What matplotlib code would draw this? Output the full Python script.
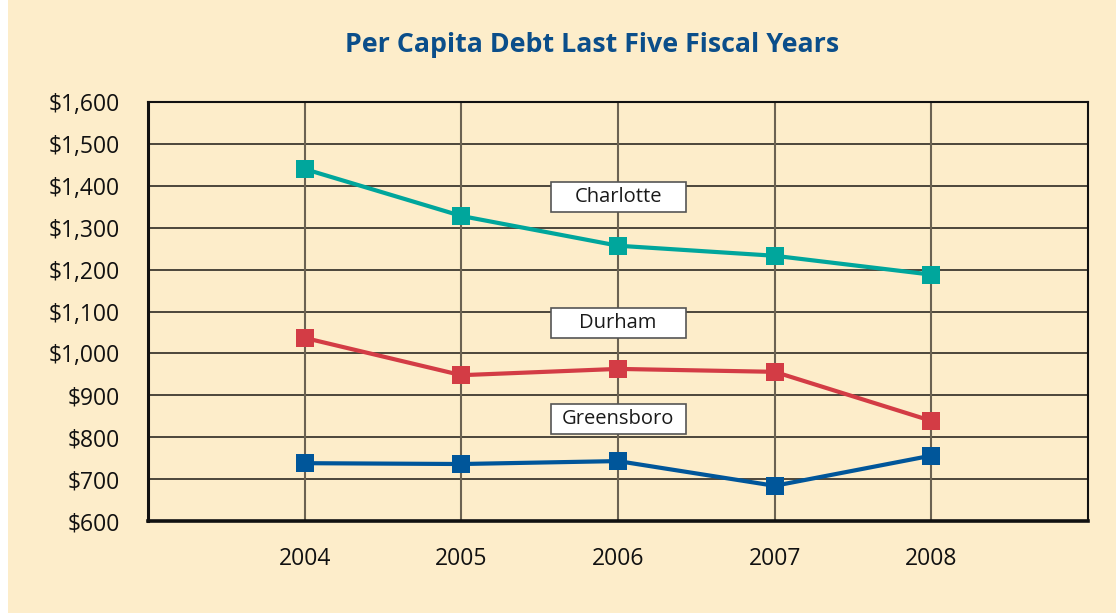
import matplotlib
matplotlib.use("Agg")
import matplotlib.pyplot as plt
from matplotlib.patches import Rectangle
from matplotlib.transforms import ScaledTranslation

years = [2004, 2005, 2006, 2007, 2008]
charlotte = [1440, 1328, 1257, 1233, 1188]
durham = [1037, 948, 963, 956, 839]
greensboro = [738, 736, 743, 684, 756]
series_names = ["Charlotte", "Durham", "Greensboro"]
label_x = [2006, 2006, 2006]
label_y = [1373, 1073, 843]
y_ticks = [600, 700, 800, 900, 1000, 1100, 1200, 1300, 1400, 1500, 1600]
title = "Per Capita Debt Last Five Fiscal Years"

colors = ["#00A69C", "#D33C45", "#00569A"]
bg = "#FDEDCA"

plt.rcParams['font.family'] = ['Open Sans', 'DejaVu Sans']

fig = plt.figure(figsize=(11.19, 6.13), dpi=100)
fig.patch.set_facecolor("white")
fig.patches.append(Rectangle((8 / 1119, 0), (1116 - 8) / 1119, 1,
                             transform=fig.transFigure, facecolor=bg,
                             edgecolor="none", zorder=-10))

ax = fig.add_axes([148 / 1119, 92 / 613, 940 / 1119, 419 / 613])
ax.set_facecolor(bg)
ax.set_xlim(2003, 2009)
ax.set_ylim(600, 1600)

for y in y_ticks[1:-1]:
    ax.axhline(y, color="#2e2a22", lw=1.2, zorder=1)
for x in years:
    ax.axvline(x, color="#6b6252", lw=1.5, zorder=1)

for vals, c in zip([charlotte, durham, greensboro], colors):
    ax.plot(years, vals, color=c, lw=3.0, marker="s", markersize=13,
            markeredgewidth=0, zorder=3, solid_joinstyle="round")

w_in, h_in = 1.35, 0.30
for name, lx, ly in zip(series_names, label_x, label_y):
    tr = fig.dpi_scale_trans + ScaledTranslation(lx, ly, ax.transData)
    ax.add_patch(Rectangle((-w_in / 2, -h_in / 2), w_in, h_in, transform=tr,
                           facecolor="white", edgecolor="#555555", lw=1.2,
                           zorder=4, clip_on=False))
    ax.text(lx, ly, name, ha="center", va="center", fontsize=14.5,
            color="#1a1a1a", zorder=5)

ax.set_xticks(years)
ax.set_xticklabels([str(y) for y in years])
ax.set_yticks(y_ticks)
ax.set_yticklabels(["${:,}".format(v) for v in y_ticks])
ax.tick_params(axis="both", length=0, labelsize=16.5, colors="#111111")
ax.tick_params(axis="x", pad=19)
ax.tick_params(axis="y", pad=20)

for side in ["top", "right"]:
    ax.spines[side].set_linewidth(1.5)
    ax.spines[side].set_color("#111111")
ax.spines["left"].set_linewidth(2.2)
ax.spines["bottom"].set_linewidth(2.6)
ax.spines["left"].set_color("#111111")
ax.spines["bottom"].set_color("#111111")

fig.text(592 / 1119, 1 - 45 / 613, title, ha="center", va="center",
         fontsize=19.3, fontweight="bold", color="#0B4E8A")

fig.savefig("out.png", dpi=100, facecolor=fig.get_facecolor())
